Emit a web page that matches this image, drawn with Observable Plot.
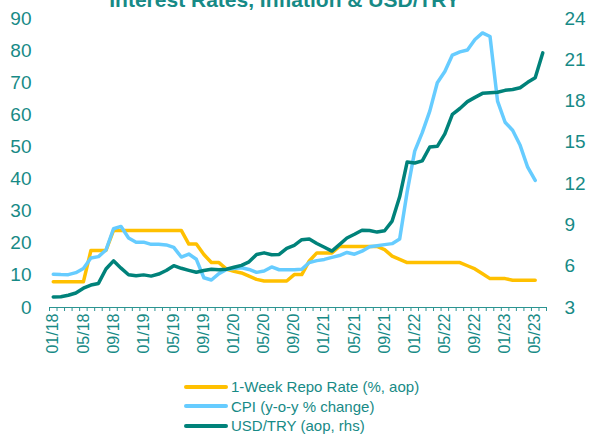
<!DOCTYPE html>
<html>
<head>
<meta charset="utf-8">
<script src="https://cdn.jsdelivr.net/npm/d3@7"></script>
<script src="https://cdn.jsdelivr.net/npm/@observablehq/plot@0.6"></script>
<style>
  html, body { margin: 0; padding: 0; background: #ffffff; }
  #wrap { position: relative; width: 590px; height: 436px; overflow: hidden; font-family: "Liberation Sans", Arial, sans-serif; }
  #title { position: absolute; top: -11px; left: 0; width: 569px; text-align: center; font-weight: bold; font-size: 21px; line-height: 21px; color: #178A86; white-space: nowrap; }
  #chart { position: absolute; top: 0; left: 0; }
  #legend { position: absolute; top: 377px; left: 184px; font-size: 15px; color: #178A86; }
  .item { position: relative; height: 19.5px; display: flex; align-items: center; }
  .swatch { width: 44px; height: 4px; border-radius: 2px; margin-right: 3px; }
</style>
</head>
<body>
<div id="wrap">
  <div id="chart"></div>
  <div id="title">Interest Rates, Inflation &amp; USD/TRY</div>
  <div id="legend"></div>
</div>
<script>
// ---- data ----
const months = [
  "01/18","02/18","03/18","04/18","05/18","06/18","07/18","08/18","09/18","10/18","11/18","12/18",
  "01/19","02/19","03/19","04/19","05/19","06/19","07/19","08/19","09/19","10/19","11/19","12/19",
  "01/20","02/20","03/20","04/20","05/20","06/20","07/20","08/20","09/20","10/20","11/20","12/20",
  "01/21","02/21","03/21","04/21","05/21","06/21","07/21","08/21","09/21","10/21","11/21","12/21",
  "01/22","02/22","03/22","04/22","05/22","06/22","07/22","08/22","09/22","10/22","11/22","12/22",
  "01/23","02/23","03/23","04/23","05/23","06/23"
];
const tickLabels = ["01/18","05/18","09/18","01/19","05/19","09/19","01/20","05/20","09/20",
  "01/21","05/21","09/21","01/22","05/22","09/22","01/23","05/23"];
const leftTicks = [0, 10, 20, 30, 40, 50, 60, 70, 80, 90];
const rightTicks = [3, 6, 9, 12, 15, 18, 21, 24];

const repoRate = [
  8, 8, 8, 8, 8, 17.75, 17.75, 17.75, 24, 24, 24, 24,
  24, 24, 24, 24, 24, 24, 19.75, 19.75, 16.5, 14, 14, 12,
  11.25, 10.75, 9.75, 8.75, 8.25, 8.25, 8.25, 8.25, 10.25, 10.25, 14.5, 17,
  17, 17, 19, 19, 19, 19, 19, 19, 18, 16, 15, 14,
  14, 14, 14, 14, 14, 14, 14, 13, 12, 10.5, 9, 9,
  9, 8.5, 8.5, 8.5, 8.5
];
const cpi = [
  10.35, 10.26, 10.23, 10.85, 12.15, 15.39, 15.85, 17.90, 24.52, 25.24, 21.62, 20.30,
  20.35, 19.67, 19.71, 19.50, 18.71, 15.72, 16.65, 15.01, 9.26, 8.55, 10.56, 11.84,
  12.15, 12.37, 11.86, 10.94, 11.39, 12.62, 11.76, 11.77, 11.75, 11.89, 14.03, 14.60,
  14.97, 15.61, 16.19, 17.14, 16.59, 17.53, 18.95, 19.25, 19.58, 19.89, 21.31, 36.08,
  48.69, 54.44, 61.14, 69.97, 73.50, 78.62, 79.60, 80.21, 83.45, 85.51, 84.39, 64.27,
  57.68, 55.18, 50.51, 43.68, 39.59
];
const usdTry = [
  3.77, 3.78, 3.89, 4.05, 4.40, 4.63, 4.75, 5.80, 6.39, 5.86, 5.38, 5.30,
  5.37, 5.28, 5.43, 5.69, 6.04, 5.85, 5.70, 5.56, 5.69, 5.78, 5.74, 5.78,
  5.92, 6.06, 6.32, 6.85, 6.97, 6.83, 6.86, 7.30, 7.52, 7.93, 7.97, 7.65,
  7.38, 7.10, 7.57, 8.05, 8.32, 8.61, 8.60, 8.48, 8.58, 9.28, 11.04, 13.58,
  13.50, 13.65, 14.66, 14.71, 15.61, 17.04, 17.46, 17.96, 18.27, 18.56, 18.60, 18.64,
  18.78, 18.84, 18.97, 19.36, 19.70, 21.5
];

const seriesNames = ["1-Week Repo Rate (%, aop)", "CPI (y-o-y % change)", "USD/TRY (aop, rhs)"];
const seriesColors = ["#FFC000", "#66CCFF", "#00827A"];

// ---- scales helpers ----
const textColor = "#178A86";
const leftMax = 90, rightMin = 3, rightMax = 24;
const toLeft = r => (r - rightMin) * leftMax / (rightMax - rightMin);
const fromLeft = l => rightMin + l * (rightMax - rightMin) / leftMax;

const rows = [];
repoRate.forEach((v, i) => rows.push({ s: seriesNames[0], x: i + 0.5, y: v }));
cpi.forEach((v, i) => rows.push({ s: seriesNames[1], x: i + 0.5, y: v }));
usdTry.forEach((v, i) => rows.push({ s: seriesNames[2], x: i + 0.5, y: toLeft(v) }));

const labelPositions = tickLabels.map(l => months.indexOf(l) + 0.5);
const boundaries = d3.range(months.length + 1);

const chart = Plot.plot({
  width: 590,
  height: 372,
  marginLeft: 49,
  marginRight: 44,
  marginTop: 18,
  marginBottom: 65,
  style: { fontFamily: "'Liberation Sans', Arial, sans-serif", background: "transparent", color: textColor, overflow: "visible" },
  x: { domain: [0, months.length], axis: null },
  y: { domain: [0, leftMax], axis: null },
  marks: [
    Plot.axisY({ anchor: "left", ticks: leftTicks, tickSize: 0, tickPadding: 18, fontSize: 19, color: textColor, label: null }),
    Plot.axisY({ anchor: "right", ticks: rightTicks.map(toLeft), tickFormat: d => String(Math.round(fromLeft(d))),
                 tickSize: 0, tickPadding: 18, fontSize: 19, color: textColor, label: null }),
    Plot.axisX({ ticks: boundaries, tickFormat: () => "", tickSize: 4, color: "#2B9491", label: null }),
    Plot.axisX({ ticks: labelPositions, tickFormat: d => months[Math.floor(d)], tickSize: 0, tickPadding: 6,
                 tickRotate: -90, fontSize: 16, color: textColor, label: null }),
    Plot.ruleY([0], { stroke: "#2B9491", strokeWidth: 1 }),
    Plot.line(rows.filter(d => d.s === seriesNames[0]), { x: "x", y: "y", stroke: seriesColors[0], strokeWidth: 3.5, strokeLinejoin: "round", strokeLinecap: "round" }),
    Plot.line(rows.filter(d => d.s === seriesNames[1]), { x: "x", y: "y", stroke: seriesColors[1], strokeWidth: 3.5, strokeLinejoin: "round", strokeLinecap: "round" }),
    Plot.line(rows.filter(d => d.s === seriesNames[2]), { x: "x", y: "y", stroke: seriesColors[2], strokeWidth: 3.5, strokeLinejoin: "round", strokeLinecap: "round" })
  ]
});
document.getElementById("chart").appendChild(chart);

const legend = document.getElementById("legend");
seriesNames.forEach((name, k) => {
  const item = document.createElement("div");
  item.className = "item";
  const sw = document.createElement("span");
  sw.className = "swatch";
  sw.style.background = seriesColors[k];
  const tx = document.createElement("span");
  tx.textContent = name;
  item.appendChild(sw);
  item.appendChild(tx);
  legend.appendChild(item);
});
</script>
</body>
</html>
